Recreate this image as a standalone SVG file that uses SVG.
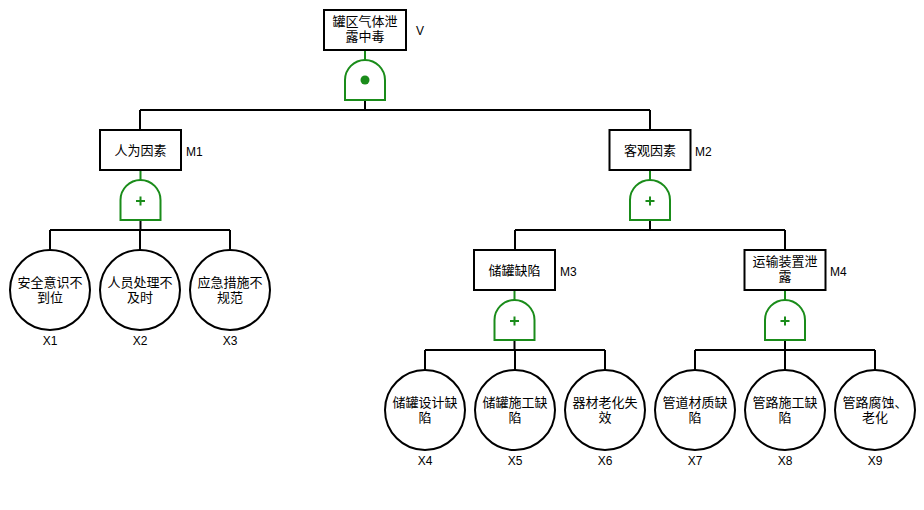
<svg xmlns="http://www.w3.org/2000/svg" width="924" height="510" viewBox="0 0 924 510">
<defs>
<style>
.box{fill:#fff;stroke:#000;stroke-width:2}
.ev{fill:#fff;stroke:#000;stroke-width:2}
.gate{fill:#fff;stroke:#1a8c1a;stroke-width:2}
.sym{stroke:#1a8c1a;stroke-width:2;fill:none}
.ln{stroke:#000;stroke-width:2;fill:none}
.gl{stroke:#1a8c1a;stroke-width:2;fill:none}
.t{font-family:"Liberation Sans","Noto Sans CJK SC",sans-serif;font-size:13px;fill:#000;text-anchor:middle}
.lb{font-family:"Liberation Sans",Arial,sans-serif;font-size:12px;fill:#000}
.lbc{font-family:"Liberation Sans",Arial,sans-serif;font-size:12px;fill:#000;text-anchor:middle}
</style>
</defs>
<g id="connectors">
<path class="gl" d="M365,50 V60 M140.5,170 V180 M650,170 V180 M514.5,290 V300 M785,290 V300"/>
<path class="ln" d="M365,100 V110 M140,110 H650 M140,110 V130 M650,110 V130"/>
<path class="ln" d="M140.5,220 V230 M50,230 H230 M50,230 V250 M140,230 V250 M230,230 V250"/>
<path class="ln" d="M650,220 V230 M515,230 H785 M515,230 V250 M785,230 V250"/>
<path class="ln" d="M514.5,340 V350 M425,350 H605 M425,350 V370 M515,350 V370 M605,350 V370"/>
<path class="ln" d="M785,340 V350 M695,350 H875 M695,350 V370 M785,350 V370 M875,350 V370"/>
</g>
<g id="V">
<rect class="box" x="324" y="10" width="82" height="40"/>
<text class="t"><tspan x="365" y="26">罐区气体泄</tspan><tspan x="365" y="41">露中毒</tspan></text>
<text class="lb" x="416" y="35">V</text>
</g>
<g id="G0">
<path class="gate" d="M345,100 L345,80 A20,20 0 0 1 385,80 L385,100 Z"/>
<circle cx="365" cy="80" r="4.5" fill="#1a8c1a"/>
</g>
<g id="M1">
<rect class="box" x="100" y="130" width="81" height="40"/>
<text class="t" x="140.5" y="155">人为因素</text>
<text class="lb" x="186" y="156">M1</text>
</g>
<g id="G1">
<path class="gate" d="M120.5,220 L120.5,200 A20,20 0 0 1 160.5,200 L160.5,220 Z"/>
<path class="sym" d="M136,201 H145 M140.5,196.5 V205.5"/>
</g>
<g id="M2">
<rect class="box" x="609.5" y="130" width="81" height="40"/>
<text class="t" x="650" y="155">客观因素</text>
<text class="lb" x="695" y="156">M2</text>
</g>
<g id="G2">
<path class="gate" d="M630,220 L630,200 A20,20 0 0 1 670,200 L670,220 Z"/>
<path class="sym" d="M645.5,201 H654.5 M650,196.5 V205.5"/>
</g>
<g id="M3">
<rect class="box" x="474" y="250" width="81" height="40"/>
<text class="t" x="514.5" y="275">储罐缺陷</text>
<text class="lb" x="560" y="276">M3</text>
</g>
<g id="G3">
<path class="gate" d="M494.5,340 L494.5,320 A20,20 0 0 1 534.5,320 L534.5,340 Z"/>
<path class="sym" d="M510,321 H519 M514.5,316.5 V325.5"/>
</g>
<g id="M4">
<rect class="box" x="744.5" y="250" width="81" height="40"/>
<text class="t"><tspan x="785" y="266">运输装置泄</tspan><tspan x="785" y="281">露</tspan></text>
<text class="lb" x="830" y="276">M4</text>
</g>
<g id="G4">
<path class="gate" d="M765,340 L765,320 A20,20 0 0 1 805,320 L805,340 Z"/>
<path class="sym" d="M780.5,321 H789.5 M785,316.5 V325.5"/>
</g>
<g id="X1"><circle class="ev" cx="50" cy="290" r="40"/><text class="t"><tspan x="50" y="287">安全意识不</tspan><tspan x="50" y="302">到位</tspan></text><text class="lbc" x="50" y="345">X1</text></g>
<g id="X2"><circle class="ev" cx="140" cy="290" r="40"/><text class="t"><tspan x="140" y="287">人员处理不</tspan><tspan x="140" y="302">及时</tspan></text><text class="lbc" x="140" y="345">X2</text></g>
<g id="X3"><circle class="ev" cx="230" cy="290" r="40"/><text class="t"><tspan x="230" y="287">应急措施不</tspan><tspan x="230" y="302">规范</tspan></text><text class="lbc" x="230" y="345">X3</text></g>
<g id="X4"><circle class="ev" cx="425" cy="410" r="40"/><text class="t"><tspan x="425" y="407">储罐设计缺</tspan><tspan x="425" y="422">陷</tspan></text><text class="lbc" x="425" y="465">X4</text></g>
<g id="X5"><circle class="ev" cx="515" cy="410" r="40"/><text class="t"><tspan x="515" y="407">储罐施工缺</tspan><tspan x="515" y="422">陷</tspan></text><text class="lbc" x="515" y="465">X5</text></g>
<g id="X6"><circle class="ev" cx="605" cy="410" r="40"/><text class="t"><tspan x="605" y="407">器材老化失</tspan><tspan x="605" y="422">效</tspan></text><text class="lbc" x="605" y="465">X6</text></g>
<g id="X7"><circle class="ev" cx="695" cy="410" r="40"/><text class="t"><tspan x="695" y="407">管道材质缺</tspan><tspan x="695" y="422">陷</tspan></text><text class="lbc" x="695" y="465">X7</text></g>
<g id="X8"><circle class="ev" cx="785" cy="410" r="40"/><text class="t"><tspan x="785" y="407">管路施工缺</tspan><tspan x="785" y="422">陷</tspan></text><text class="lbc" x="785" y="465">X8</text></g>
<g id="X9"><circle class="ev" cx="875" cy="410" r="40"/><text class="t"><tspan x="875" y="407">管路腐蚀、</tspan><tspan x="875" y="422">老化</tspan></text><text class="lbc" x="875" y="465">X9</text></g>
</svg>
